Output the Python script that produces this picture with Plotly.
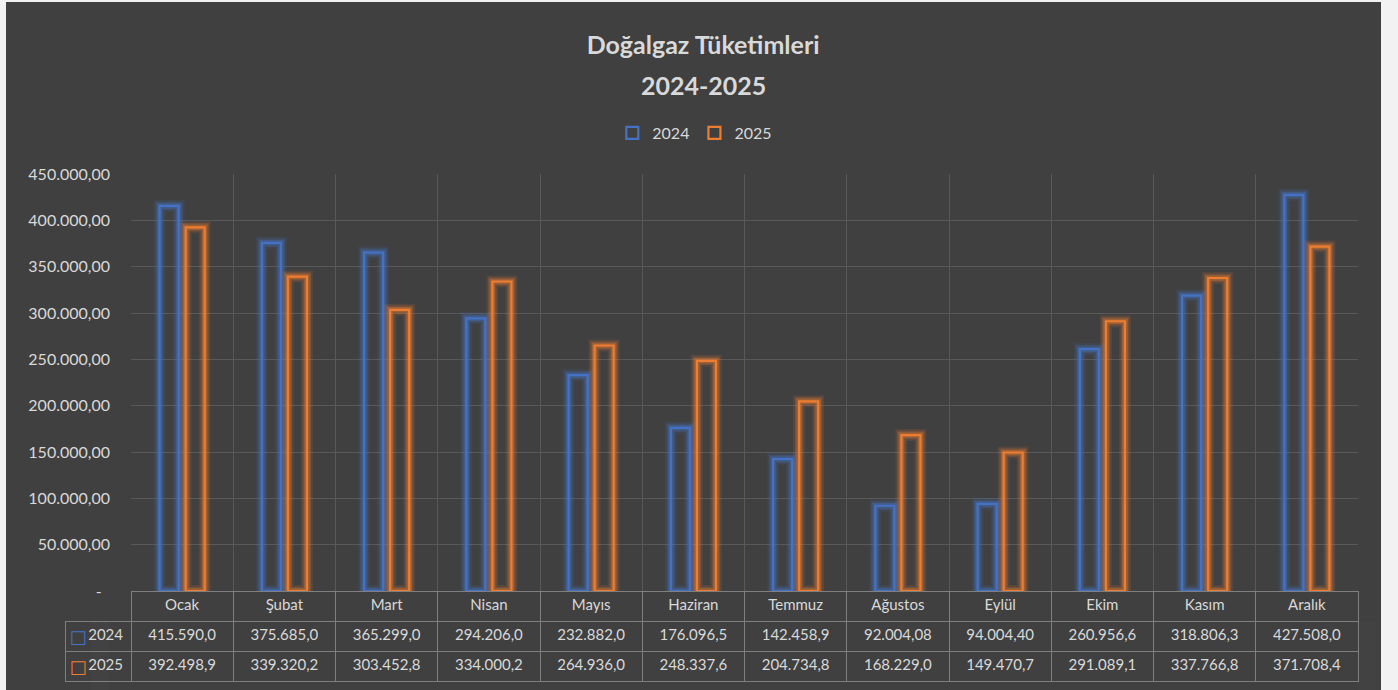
import plotly.graph_objects as go

months = ["Ocak", "Şubat", "Mart", "Nisan", "Mayıs", "Haziran", "Temmuz",
          "Ağustos", "Eylül", "Ekim", "Kasım", "Aralık"]
v2024 = [415590.0, 375685.0, 365299.0, 294206.0, 232882.0, 176096.5, 142458.9,
         92004.08, 94004.40, 260956.6, 318806.3, 427508.0]
v2025 = [392498.9, 339320.2, 303452.8, 334000.2, 264936.0, 248337.6, 204734.8,
         168229.0, 149470.7, 291089.1, 337766.8, 371708.4]
series_names = ["2024", "2025"]
y_tickvals = [0, 50000, 100000, 150000, 200000, 250000, 300000, 350000, 400000, 450000]

BLUE = "#4472C4"
ORANGE = "#ED7D31"
BG = "#404040"
GRID = "#595959"
TXT = "#D9D9D9"
TBL_LINE = "#7F7F7F"
CLEAR = "rgba(0,0,0,0)"
W, H = 1398, 690
NBSP = "\u00a0"


def tr_num(v, digits=7):
    ip = len(str(int(abs(v))))
    dec = max(0, digits - ip)
    s = f"{v:,.{dec}f}"
    return s.replace(",", "X").replace(".", ",").replace("X", ".")


def tick_text(v):
    if v == 0:
        return "-" + NBSP * 2
    s = f"{v:,.2f}"
    return s.replace(",", "X").replace(".", ",").replace("X", ".")


fig = go.Figure()

for name, vals, col, rgb in [(series_names[0], v2024, BLUE, "68,114,196"),
                              (series_names[1], v2025, ORANGE, "237,125,49")]:
    # glow layers
    for lw, a in [(12, 0.12), (8.5, 0.20), (5.5, 0.35)]:
        fig.add_trace(go.Bar(
            x=months, y=vals, offsetgroup=name, showlegend=False,
            hoverinfo="skip",
            marker=dict(color=CLEAR, line=dict(color=f"rgba({rgb},{a})", width=lw)),
        ))
    fig.add_trace(go.Bar(
        x=months, y=vals, name=name, offsetgroup=name,
        marker=dict(color=CLEAR, line=dict(color=col, width=2.2)),
    ))

x0 = 131 / W
x1 = 1358 / W
y0 = (H - 591) / H
y1 = (H - 174) / H

# main data table
fig.add_trace(go.Table(
    domain=dict(x=[65 / W, x1], y=[0, y0]),
    columnwidth=[66] + [102.25] * 12,
    header=dict(
        values=[""] + months,
        height=30,
        fill=dict(color=[CLEAR] + [BG] * 12),
        line=dict(color=[CLEAR] + [TBL_LINE] * 12, width=1),
        font=dict(family="Lato", size=15, color=TXT),
        align="center",
    ),
    cells=dict(
        values=[series_names] + [[tr_num(a), tr_num(b)] for a, b in zip(v2024, v2025)],
        height=30,
        fill=dict(color=BG),
        line=dict(color=TBL_LINE, width=1),
        font=dict(family="Lato", size=15, color=TXT),
        align=["right"] + ["center"] * 12,
    ),
))

# legend keys in the table's row-label column
fig.add_trace(go.Table(
    domain=dict(x=[65 / W, 91 / W], y=[0, y0]),
    columnwidth=[26],
    header=dict(values=[""], height=30, fill=dict(color=CLEAR),
                line=dict(color=CLEAR, width=0)),
    cells=dict(
        values=[["□", "□"]],
        height=30,
        fill=dict(color=CLEAR),
        line=dict(color=CLEAR, width=0),
        font=dict(family="DejaVu Sans", size=18, color=[[BLUE, ORANGE]]),
        align="center",
    ),
))

fig.add_shape(type="rect", xref="paper", yref="paper",
              x0=6 / W, x1=1381 / W, y0=0, y1=(H - 2) / H,
              fillcolor=BG, line=dict(width=0), layer="below")

fig.update_layout(
    template="none",
    width=W, height=H,
    margin=dict(l=0, r=0, t=0, b=0, autoexpand=False),
    paper_bgcolor="#F2F2F2",
    plot_bgcolor=CLEAR,
    separators=",.",
    barmode="group",
    bargap=0.49,
    bargroupgap=0.27,
    font=dict(family="Lato", color=TXT),
    title=dict(text="<b>Doğalgaz Tüketimleri</b>", x=0.503, xanchor="center",
               y=1 - 45 / H, yanchor="middle", yref="container",
               font=dict(family="Lato", size=25, color=TXT)),
    annotations=[dict(text="<b>2024-2025</b>", xref="paper", yref="paper",
                      x=0.503, y=1 - 85 / H, xanchor="center", yanchor="middle",
                      showarrow=False, font=dict(family="Lato", size=25, color=TXT))],
    legend=dict(orientation="h", x=0.497, xanchor="center", y=1 - 133 / H,
                yanchor="middle", bgcolor=CLEAR,
                font=dict(family="Lato", size=16, color=TXT),
                itemwidth=30, traceorder="normal"),
    xaxis=dict(domain=[x0, x1], showticklabels=False, showgrid=True,
               gridcolor=GRID, gridwidth=1, tickson="boundaries", ticks="",
               showline=False, zeroline=False, automargin=False),
    yaxis=dict(domain=[y0, y1], range=[0, 450000], tickvals=y_tickvals,
               ticktext=[tick_text(v) for v in y_tickvals],
               showgrid=True, gridcolor=GRID, gridwidth=1, zeroline=False,
               showline=False, ticks="", ticklabelstandoff=20,
               tickfont=dict(family="Lato", size=16, color=TXT), automargin=False),
)

fig.write_html(
    "out.html",
    config={"displayModeBar": False},
    post_script="document.body.style.margin='0';document.body.style.overflow='hidden';",
)
